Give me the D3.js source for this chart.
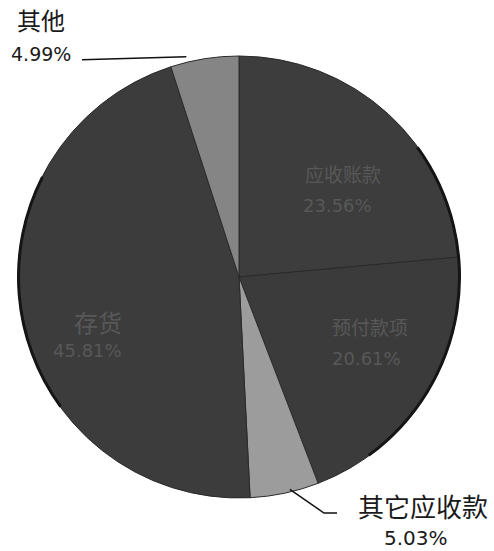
<!DOCTYPE html>
<html><head><meta charset="utf-8">
<script src="https://cdn.jsdelivr.net/npm/d3@7"></script>
<style>body{margin:0;background:#fff}svg{display:block}</style>
</head><body>
<script>
const categories = ["应收账款", "预付款项", "其它应收款", "存货", "其他"];
const values = [23.56, 20.61, 5.03, 45.81, 4.99];
const labels = ["23.56%", "20.61%", "5.03%", "45.81%", "4.99%"];

const W = 494, H = 551;
const cx = 239, cy = 277, R = 221;
const fills = ["#3d3d3d", "#3b3b3b", "#9c9c9c", "#3c3c3c", "#858585"];

const svg = d3.select("body").append("svg").attr("width", W).attr("height", H);
const g = svg.append("g").attr("transform", `translate(${cx},${cy})`);

const pie = d3.pie().sort(null).value(d => d)(values);
const arc = d3.arc().innerRadius(0).outerRadius(R);

g.selectAll("path.slice").data(pie).enter().append("path")
  .attr("class", "slice")
  .attr("d", arc)
  .attr("fill", (d, i) => fills[i])
  .attr("stroke", "#2a2a2a").attr("stroke-width", 1);

// dark rim on the right and left edges (scan look)
g.append("path").attr("d", d3.arc().innerRadius(R - 2).outerRadius(R + 1).startAngle(Math.PI * 0.3).endAngle(Math.PI * 0.8)())
  .attr("fill", "#151515");
g.append("path").attr("d", d3.arc().innerRadius(R - 2).outerRadius(R + 1).startAngle(Math.PI * 1.3).endAngle(Math.PI * 1.65)())
  .attr("fill", "#151515");

const font = "'Noto Sans CJK SC', 'Liberation Sans', sans-serif";
const numFont = "'DejaVu Sans', 'Liberation Sans', sans-serif";

// inner (faint) labels
const inner = [
  {i: 0, x: 305, y: 182, x2: 303, y2: 212, fs: 19},
  {i: 1, x: 332, y: 335, x2: 332, y2: 365, fs: 19},
  {i: 3, x: 74, y: 332, x2: 53, y2: 357, fs: 24}
];
inner.forEach(o => {
  svg.append("text").attr("x", o.x).attr("y", o.y)
    .attr("font-family", font).attr("font-size", o.fs).attr("fill", "#585858").text(categories[o.i]);
  svg.append("text").attr("x", o.x2).attr("y", o.y2)
    .attr("font-family", numFont).attr("font-size", 18).attr("fill", "#585858").text(labels[o.i]);
});

// outer labels with leader lines
function outerPoint(d, r) {
  const a = (d.startAngle + d.endAngle) / 2;
  return [cx + Math.sin(a) * r, cy - Math.cos(a) * r];
}
// 其他
const p4 = outerPoint(pie[4], R + 1);
svg.append("polyline")
  .attr("points", `${p4[0] - 18},${p4[1] - 1} 82,${p4[1] + 2}`)
  .attr("fill", "none").attr("stroke", "#111").attr("stroke-width", 1.5);
svg.append("text").attr("x", 17).attr("y", 30).attr("font-family", font)
  .attr("font-size", 24).attr("fill", "#1a1a1a").text(categories[4]);
svg.append("text").attr("x", 11).attr("y", 61).attr("font-family", numFont)
  .attr("font-size", 19).attr("fill", "#1a1a1a").text(labels[4]);

// 其它应收款
const p2 = outerPoint(pie[2], R - 4);
svg.append("polyline")
  .attr("points", `${p2[0] + 6},${p2[1]} 324,513 337,513`)
  .attr("fill", "none").attr("stroke", "#111").attr("stroke-width", 1.5);
svg.append("text").attr("x", 358).attr("y", 517).attr("font-family", font)
  .attr("font-size", 26).attr("fill", "#1a1a1a").text(categories[2]);
svg.append("text").attr("x", 384).attr("y", 545).attr("font-family", numFont)
  .attr("font-size", 20).attr("fill", "#1a1a1a").text(labels[2]);
</script>
</body></html>
